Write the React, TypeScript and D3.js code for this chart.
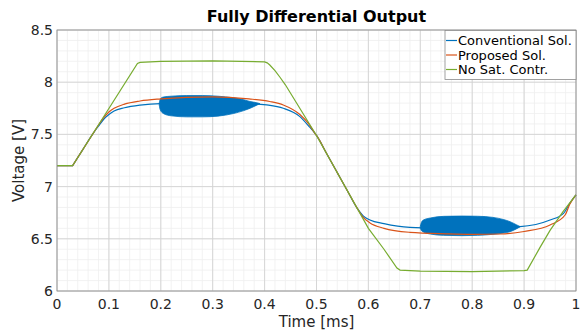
import React from "react";
import * as d3 from "d3";

const W = 582, H = 332;
const M = { left: 57, right: 6, top: 30, bottom: 41 };

const xTicks = [0, 0.1, 0.2, 0.3, 0.4, 0.5, 0.6, 0.7, 0.8, 0.9, 1];
const xTickLabels = ["0", "0.1", "0.2", "0.3", "0.4", "0.5", "0.6", "0.7", "0.8", "0.9", "1"];
const yTicks = [6, 6.5, 7, 7.5, 8, 8.5];
const yTickLabels = ["6", "6.5", "7", "7.5", "8", "8.5"];

const seriesNames = ["Conventional Sol.", "Proposed Sol.", "No Sat. Contr."];
const seriesColors = ["#0072BD", "#D95319", "#77AC30"];

// Conventional Sol. (blue)
const blueT = [0, 0.03, 0.031, 0.05, 0.07, 0.08, 0.09, 0.1, 0.11, 0.13, 0.16, 0.2, 0.3, 0.37, 0.404, 0.436, 0.468, 0.485, 0.497, 0.5, 0.52, 0.54, 0.56, 0.578, 0.59, 0.603, 0.63, 0.68, 0.75, 0.8, 0.892, 0.95, 0.976, 0.988, 1.0];
const blueV = [7.2, 7.2, 7.208, 7.357, 7.512, 7.58, 7.645, 7.69, 7.725, 7.755, 7.78, 7.795, 7.8, 7.795, 7.782, 7.75, 7.67, 7.58, 7.51, 7.49, 7.312, 7.134, 6.956, 6.796, 6.72, 6.68, 6.645, 6.61, 6.602, 6.6, 6.616, 6.68, 6.744, 6.84, 6.92];

// Oscillation envelopes of Conventional Sol.
const blob1T = [0.197, 0.199, 0.205, 0.22, 0.25, 0.28, 0.31, 0.34, 0.36, 0.372, 0.385, 0.391];
const blob1Hi = [7.8, 7.84, 7.858, 7.866, 7.872, 7.872, 7.866, 7.85, 7.832, 7.815, 7.803, 7.795];
const blob1Lo = [7.78, 7.735, 7.7, 7.678, 7.668, 7.668, 7.675, 7.7, 7.728, 7.75, 7.78, 7.795];
const blob2T = [0.7, 0.702, 0.706, 0.72, 0.745, 0.78, 0.81, 0.84, 0.86, 0.873, 0.885, 0.892];
const blob2Hi = [6.62, 6.655, 6.68, 6.7, 6.715, 6.718, 6.716, 6.705, 6.685, 6.664, 6.635, 6.618];
const blob2Lo = [6.6, 6.58, 6.565, 6.545, 6.533, 6.53, 6.533, 6.543, 6.555, 6.568, 6.595, 6.614];

// Proposed Sol. (red)
const redT = [0, 0.03, 0.031, 0.05, 0.07, 0.08, 0.09, 0.1, 0.11, 0.13, 0.16, 0.2, 0.25, 0.3, 0.37, 0.41, 0.436, 0.468, 0.485, 0.497, 0.5, 0.52, 0.54, 0.56, 0.578, 0.59, 0.603, 0.63, 0.68, 0.75, 0.8, 0.854, 0.9, 0.95, 0.979, 0.988, 1.0];
const redV = [7.2, 7.2, 7.208, 7.357, 7.512, 7.59, 7.66, 7.715, 7.75, 7.79, 7.82, 7.84, 7.855, 7.86, 7.84, 7.815, 7.782, 7.69, 7.6, 7.51, 7.49, 7.312, 7.134, 6.956, 6.796, 6.705, 6.652, 6.6, 6.562, 6.548, 6.543, 6.546, 6.57, 6.632, 6.728, 6.83, 6.92];

// No Sat. Contr. (green)
const greenT = [0, 0.03, 0.155, 0.16, 0.2, 0.3, 0.4, 0.405, 0.41, 0.42, 0.43, 0.44, 0.5, 0.6, 0.63, 0.655, 0.661, 0.7, 0.8, 0.9, 0.906, 0.931, 0.95, 0.975, 1.0];
const greenV = [7.2, 7.2, 8.18, 8.19, 8.2, 8.205, 8.195, 8.185, 8.165, 8.11, 8.045, 7.975, 7.49, 6.6, 6.4, 6.22, 6.2, 6.19, 6.185, 6.195, 6.2, 6.42, 6.58, 6.76, 6.92];

export default function App() {
  const x = d3.scaleLinear().domain([0, 1]).range([M.left, W - M.right]);
  const y = d3.scaleLinear().domain([6, 8.5]).range([H - M.bottom, M.top]);
  const x0 = x(0), x1 = x(1), y0 = y(6), y1 = y(8.5);

  const minorX = d3.range(0, 1.0001, 0.02).map((v) => +v.toFixed(2));
  const minorY = d3.range(6, 8.5001, 0.1).map((v) => +v.toFixed(1));

  const smooth = d3.line<[number, number]>().x((d) => x(d[0])).y((d) => y(d[1])).curve(d3.curveMonotoneX);
  const straight = d3.line<[number, number]>().x((d) => x(d[0])).y((d) => y(d[1]));
  const zip = (t: number[], v: number[]) => t.map((tt, i) => [tt, v[i]] as [number, number]);

  const area = d3
    .area<[number, number, number]>()
    .x((d) => x(d[0]))
    .y0((d) => y(d[1]))
    .y1((d) => y(d[2]))
    .curve(d3.curveMonotoneX);
  const zip3 = (t: number[], lo: number[], hi: number[]) => t.map((tt, i) => [tt, lo[i], hi[i]] as [number, number, number]);

  const font = "DejaVu Sans, sans-serif";
  const txt = "#262626";
  const lgX = 445, lgY = 30.5, lgW = 131, lgH = 49;

  return (
    <svg width={W} height={H} style={{ position: "absolute", left: 0, top: 0, background: "#fff" }} fontFamily={font}>
      <rect x={0} y={0} width={W} height={H} fill="#fff" />
      <rect x={x0} y={y1} width={x1 - x0} height={y0 - y1} fill="#fff" />
      {minorX.map((v) => (
        <line key={"mx" + v} x1={x(v)} x2={x(v)} y1={y1} y2={y0} stroke="#efefef" strokeWidth={0.8} />
      ))}
      {minorY.map((v) => (
        <line key={"my" + v} x1={x0} x2={x1} y1={y(v)} y2={y(v)} stroke="#efefef" strokeWidth={0.8} />
      ))}
      {xTicks.map((v) => (
        <line key={"gx" + v} x1={x(v)} x2={x(v)} y1={y1} y2={y0} stroke="#d2d2d2" strokeWidth={0.9} />
      ))}
      {yTicks.map((v) => (
        <line key={"gy" + v} x1={x0} x2={x1} y1={y(v)} y2={y(v)} stroke="#d2d2d2" strokeWidth={0.9} />
      ))}

      <path d={smooth(zip(blueT, blueV)) || ""} fill="none" stroke={seriesColors[0]} strokeWidth={1.2} />
      <path d={area(zip3(blob1T, blob1Lo, blob1Hi)) || ""} fill={seriesColors[0]} stroke={seriesColors[0]} strokeWidth={0.8} />
      <path d={area(zip3(blob2T, blob2Lo, blob2Hi)) || ""} fill={seriesColors[0]} stroke={seriesColors[0]} strokeWidth={0.8} />
      <path d={smooth(zip(redT, redV)) || ""} fill="none" stroke={seriesColors[1]} strokeWidth={1.2} />
      <path d={straight(zip(greenT, greenV)) || ""} fill="none" stroke={seriesColors[2]} strokeWidth={1.2} />

      <rect x={x0} y={y1} width={x1 - x0} height={y0 - y1} fill="none" stroke="#8a8a8a" strokeWidth={0.8} />

      {xTicks.map((v, i) => (
        <text key={"xt" + v} x={x(v)} y={y0 + 18} textAnchor="middle" fontSize={14} fill={txt}>
          {xTickLabels[i]}
        </text>
      ))}
      {yTicks.map((v, i) => (
        <text key={"yt" + v} x={x0 - 4} y={y(v) + 5} textAnchor="end" fontSize={14} fill={txt}>
          {yTickLabels[i]}
        </text>
      ))}
      <text x={(x0 + x1) / 2} y={H - 5} textAnchor="middle" fontSize={15} fill={txt}>
        Time [ms]
      </text>
      <text transform={`translate(24,${(y0 + y1) / 2}) rotate(-90)`} textAnchor="middle" fontSize={15} fill={txt}>
        Voltage [V]
      </text>
      <text x={(x0 + x1) / 2} y={22} textAnchor="middle" fontSize={16} fontWeight="bold" fill="#000">
        Fully Differential Output
      </text>

      <rect x={lgX} y={lgY} width={lgW} height={lgH} fill="#fff" stroke="#8a8a8a" strokeWidth={0.8} />
      {seriesNames.map((n, i) => (
        <g key={n}>
          <line x1={lgX + 1} x2={lgX + 12} y1={lgY + 10 + i * 14.5} y2={lgY + 10 + i * 14.5} stroke={seriesColors[i]} strokeWidth={1.2} />
          <text x={lgX + 13} y={lgY + 14.5 + i * 14.5} fontSize={13} fill="#000">
            {n}
          </text>
        </g>
      ))}
    </svg>
  );
}
